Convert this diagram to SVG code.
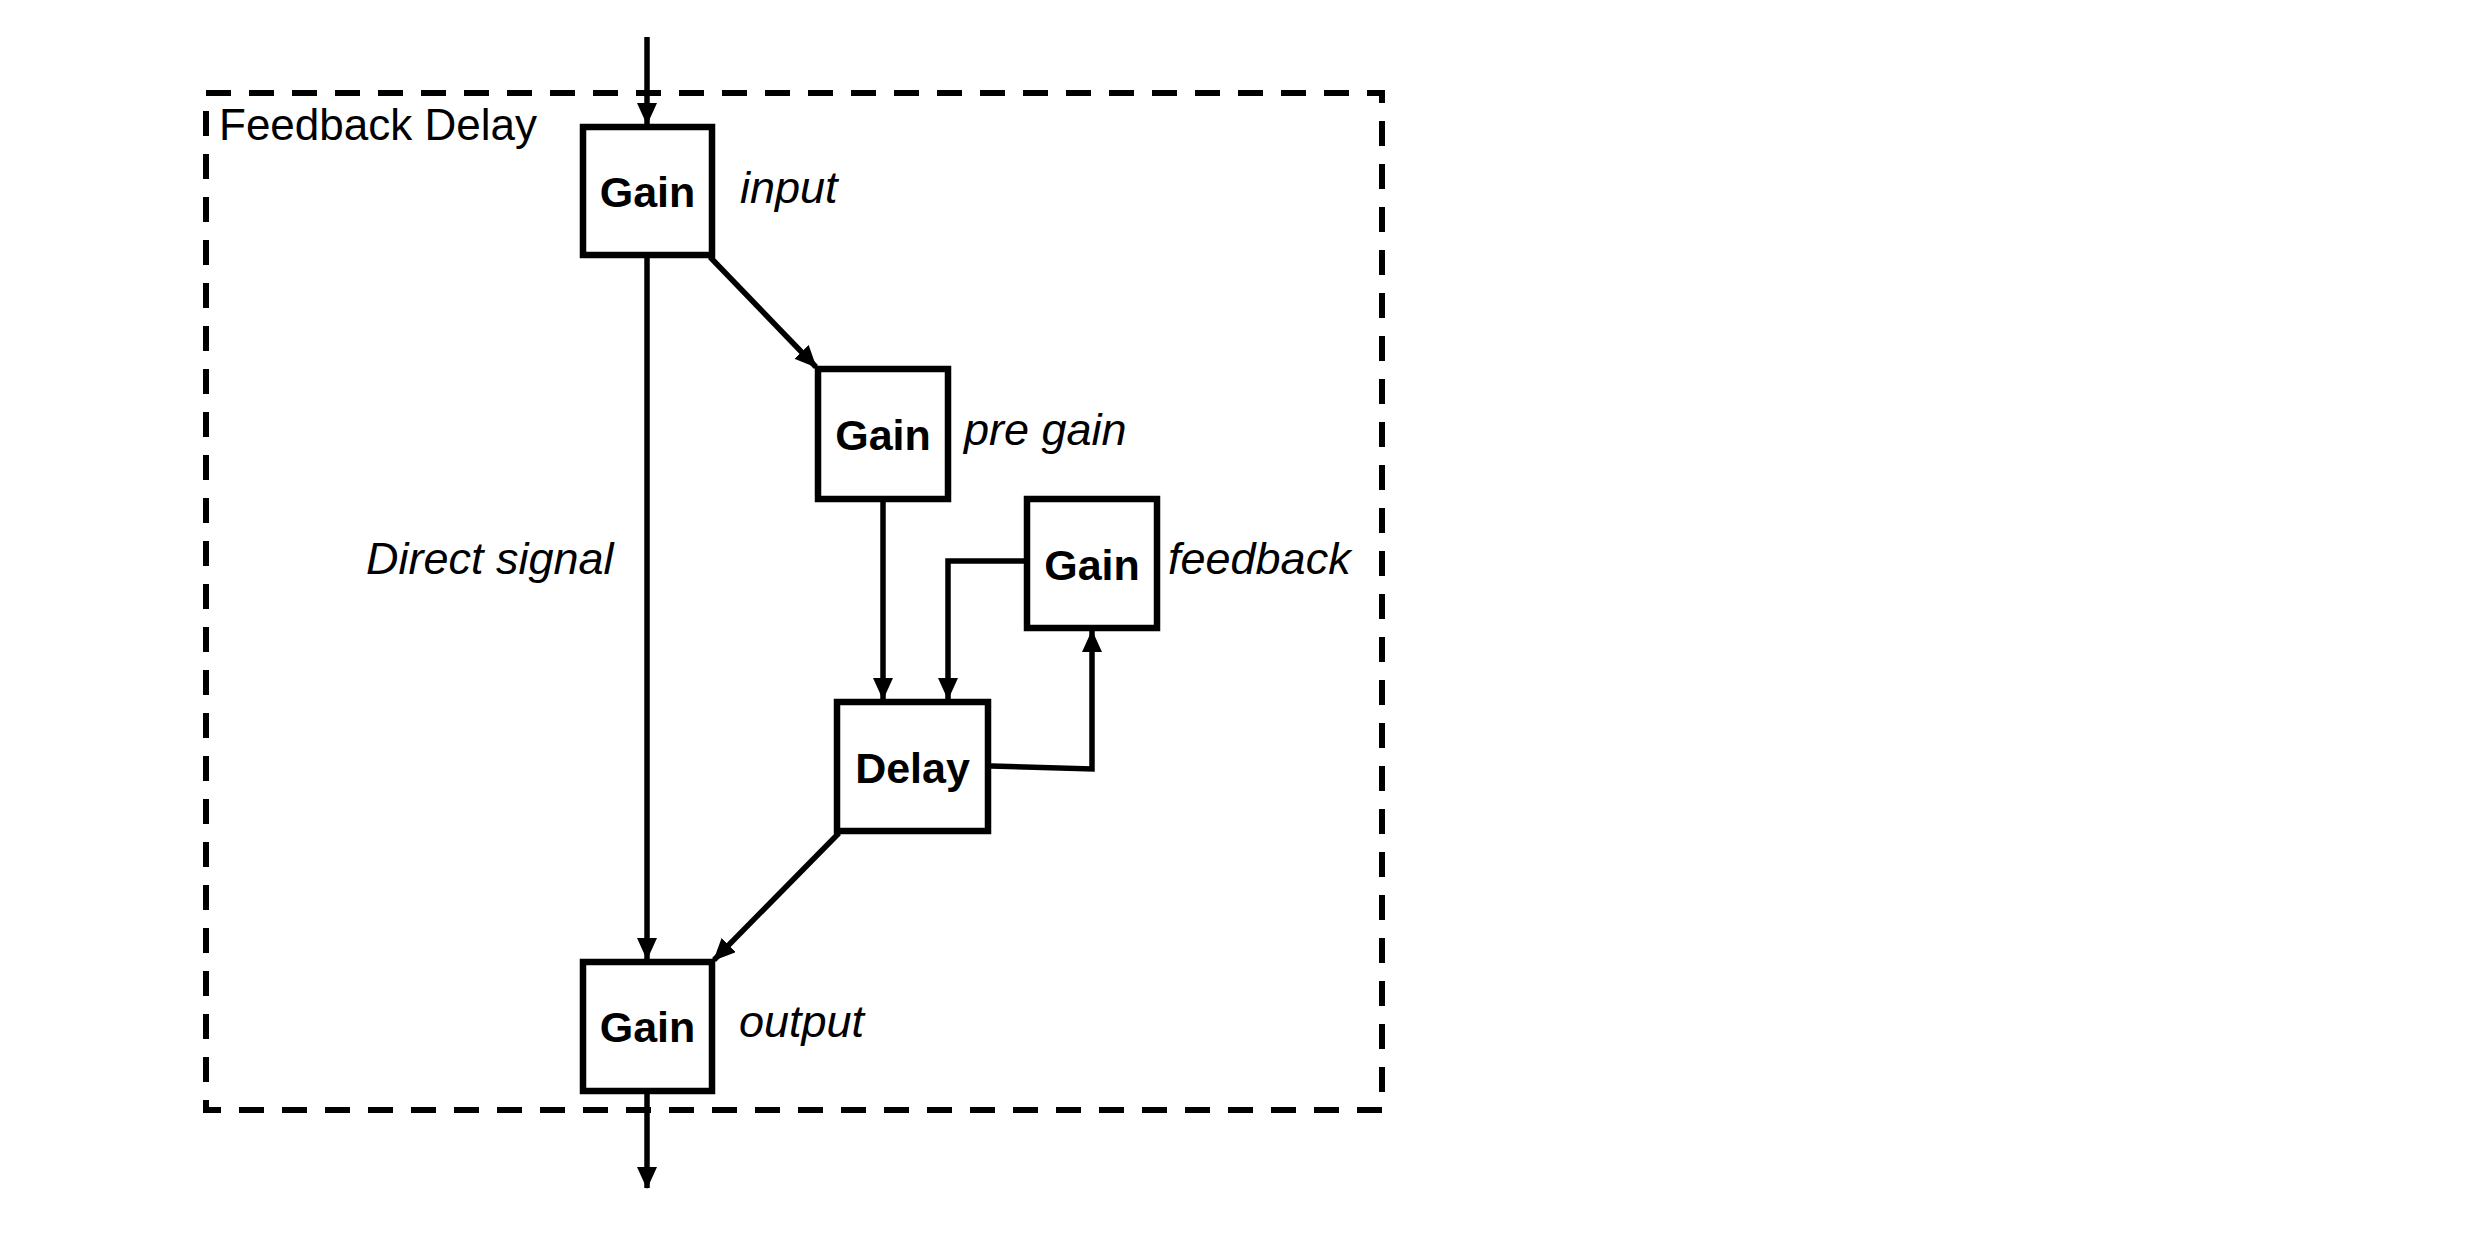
<svg xmlns="http://www.w3.org/2000/svg" width="2486" height="1234" viewBox="0 0 2486 1234">
<style>
.box{fill:#fff;stroke:#000;stroke-width:6.5}
.name{font-family:"Liberation Sans",Arial,sans-serif;font-weight:bold;font-size:43px;text-anchor:middle;fill:#000}
.lbl{font-family:"Liberation Sans",Arial,sans-serif;font-style:italic;font-size:45px;fill:#000}
.wire{fill:none;stroke:#000;stroke-width:5.5;marker-end:url(#arr)}
</style>
<defs>
<marker id="arr" markerUnits="userSpaceOnUse" markerWidth="22" markerHeight="20" refX="21" refY="10" orient="auto">
<path d="M0,0 L22,10 L0,20 z" fill="#000"/>
</marker>
</defs>
<rect width="2486" height="1234" fill="#fff"/>
<g id="group-feedback-delay">
<rect x="206" y="93" width="1176" height="1017" fill="none" stroke="#000" stroke-width="6" stroke-dasharray="25 18"/>
<text x="219" y="140" font-family="Liberation Sans, Arial, sans-serif" font-size="44">Feedback Delay</text>
</g>
<g id="connectors">
<path class="wire" d="M647,37 L647,124"/>
<path class="wire" d="M647,258 L647,959"/>
<path class="wire" d="M710,257 L816,367"/>
<path class="wire" d="M883,502 L883,699"/>
<path class="wire" d="M1024,561 L948,561 L948,699"/>
<path class="wire" d="M991,766 L1092,769 L1092,631"/>
<path class="wire" d="M839,833 L714,960"/>
<path class="wire" d="M647,1094 L647,1188"/>
</g>
<g id="node-input">
<rect class="box" x="583" y="127" width="129" height="128"/>
<text class="name" x="647.5" y="207">Gain</text>
<text class="lbl" x="740" y="203">input</text>
</g>
<g id="node-pregain">
<rect class="box" x="818" y="369" width="130" height="130"/>
<text class="name" x="883" y="450">Gain</text>
<text class="lbl" x="964" y="445">pre gain</text>
</g>
<g id="node-feedback">
<rect class="box" x="1027" y="499" width="130" height="129"/>
<text class="name" x="1092" y="580">Gain</text>
<text class="lbl" x="1168" y="574">feedback</text>
</g>
<g id="node-delay">
<rect class="box" x="837" y="702" width="151" height="129"/>
<text class="name" x="912.5" y="783">Delay</text>
</g>
<g id="node-output">
<rect class="box" x="583" y="962" width="129" height="129"/>
<text class="name" x="647.5" y="1042">Gain</text>
<text class="lbl" x="739" y="1037">output</text>
</g>
<g id="label-direct">
<text class="lbl" x="366" y="574">Direct signal</text>
</g>
</svg>
